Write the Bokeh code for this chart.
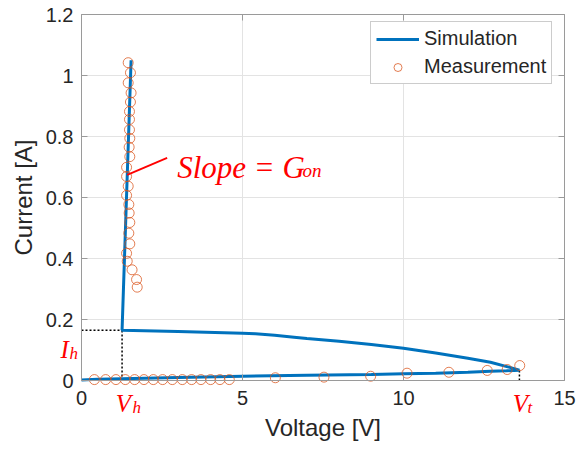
from bokeh.plotting import figure
from bokeh.models import Range1d, FixedTicker, LinearAxis, Label, Grid
from bokeh.embed import file_html
from bokeh.resources import INLINE

# Simulation: lower branch (0 -> Vt), upper branch (Vt -> Vh), on-state branch
sim_v = [0.0, 0.5, 1.26, 3.0, 5.0, 7.0, 9.0, 10.0, 11.0, 12.0, 12.7, 13.2, 13.6,
         13.3, 12.7, 12.0, 11.0, 10.0, 9.0, 8.0, 7.0, 6.6, 6.0, 5.4, 5.0, 3.0, 1.26,
         1.54]
sim_i = [0.002, 0.004, 0.006, 0.010, 0.014, 0.017, 0.020, 0.022, 0.024, 0.027, 0.030, 0.032, 0.034,
         0.043, 0.060, 0.073, 0.090, 0.106, 0.118, 0.129, 0.138, 0.142, 0.148, 0.153, 0.155, 0.161, 0.165,
         1.05]

meas_v = [1.45, 1.52, 1.45, 1.54, 1.52, 1.49, 1.49, 1.49, 1.50, 1.48, 1.50, 1.40, 1.40,
          1.45, 1.40, 1.47, 1.48, 1.50, 1.47, 1.50, 1.40, 1.42, 1.57, 1.71, 1.73,
          0.40, 0.75, 1.07, 1.36, 1.65, 1.94, 2.23, 2.52, 2.82, 3.13, 3.42, 3.71, 4.01,
          4.30, 4.59, 6.02, 7.53, 8.98, 10.11, 11.41, 12.60, 13.22, 13.61]
meas_i = [1.042, 1.009, 0.976, 0.943, 0.913, 0.882, 0.856, 0.822, 0.794, 0.765, 0.734, 0.699, 0.669,
          0.637, 0.607, 0.577, 0.549, 0.518, 0.483, 0.448, 0.417, 0.391, 0.363, 0.331, 0.306,
          0.003, 0.003, 0.003, 0.003, 0.003, 0.003, 0.003, 0.003, 0.003, 0.003, 0.003, 0.003, 0.003,
          0.003, 0.003, 0.009, 0.011, 0.014, 0.024, 0.027, 0.033, 0.036, 0.049]

Vh, Ih = 1.26, 0.165
Vt, It = 13.6, 0.034

x_ticks = [0, 5, 10, 15]
y_ticks = [0, 0.2, 0.4, 0.6, 0.8, 1.0, 1.2]
y_tick_labels = ["0", "0.2", "0.4", "0.6", "0.8", "1", "1.2"]
X0, X1 = 0, 15
Y0, Y1 = 0, 1.2

TXT = "#262626"
AX = "#9a9a9a"
GRID = "#e3e3e3"
FONT = "Liberation Sans"
SERIF = "Liberation Serif"
RED = "#ff0000"

# The frame covers the whole canvas so that annotations outside the axes box are not clipped;
# the axes are pinned to the data box with fixed_location.
W, H = 577, 450
L, R, T, B = 81, 13, 14, 70
sx = (W - L - R) / (X1 - X0)
sy = (H - T - B) / (Y1 - Y0)
p = figure(width=W, height=H, output_backend="svg", toolbar_location=None,
           x_range=Range1d(X0 - L / sx, X1 + R / sx), y_range=Range1d(Y0 - B / sy, Y1 + T / sy),
           min_border=0, min_border_left=0, min_border_right=0, min_border_top=0, min_border_bottom=0)
p.background_fill_color = "white"
p.border_fill_color = "white"
p.outline_line_color = None

xa, ya = p.xaxis[0], p.yaxis[0]
xa.fixed_location = Y0
xa.bounds = (X0, X1)
ya.fixed_location = X0
ya.bounds = (Y0, Y1)
for ax, ticks in ((xa, x_ticks), (ya, y_ticks)):
    ax.ticker = FixedTicker(ticks=ticks)
    ax.major_tick_in = 6
    ax.major_tick_out = 0
    ax.minor_tick_line_color = None
    ax.axis_line_color = AX
    ax.major_tick_line_color = AX
    ax.major_label_text_font = FONT
    ax.major_label_text_font_size = "20px"
    ax.major_label_text_color = TXT
    ax.axis_label_text_font = FONT
    ax.axis_label_text_font_size = "24px"
    ax.axis_label_text_font_style = "normal"
    ax.axis_label_text_color = TXT

xa.axis_label = "Voltage [V]"
ya.axis_label = "Current [A]"
xa.major_label_standoff = 10
xa.axis_label_standoff = 6
ya.major_label_standoff = 8
ya.axis_label_standoff = 6
ya.major_label_overrides = {t: l for t, l in zip(y_ticks, y_tick_labels)}

for side, ticks, loc, bnds in (("right", y_ticks, X1, (Y0, Y1)), ("above", x_ticks, Y1, (X0, X1))):
    a = LinearAxis(ticker=FixedTicker(ticks=ticks), fixed_location=loc, bounds=bnds,
                   major_tick_in=6, major_tick_out=0,
                   minor_tick_line_color=None, axis_line_color=AX, major_tick_line_color=AX,
                   major_label_text_font_size="1px", major_label_text_color=None,
                   major_label_standoff=0)
    p.add_layout(a, side)

p.xgrid.ticker = FixedTicker(ticks=x_ticks)
p.ygrid.ticker = FixedTicker(ticks=y_ticks)
if "cross_bounds" in Grid.properties():
    p.xgrid.bounds = (X0, X1)
    p.ygrid.bounds = (Y0, Y1)
    p.xgrid.cross_bounds = (Y0, Y1)
    p.ygrid.cross_bounds = (X0, X1)
    p.xgrid.grid_line_color = GRID
    p.ygrid.grid_line_color = GRID
else:
    p.xgrid.grid_line_color = None
    p.ygrid.grid_line_color = None
    p.segment(x0=x_ticks[1:-1], y0=[Y0] * (len(x_ticks) - 2), x1=x_ticks[1:-1], y1=[Y1] * (len(x_ticks) - 2),
              line_color=GRID, line_width=1)
    p.segment(x0=[X0] * (len(y_ticks) - 2), y0=y_ticks[1:-1], x1=[X1] * (len(y_ticks) - 2), y1=y_ticks[1:-1],
              line_color=GRID, line_width=1)

# dotted guide lines
p.line([X0, Vh], [Ih, Ih], line_color="black", line_width=1.5, line_dash="2 2")
p.line([Vh, Vh], [Y0, Ih], line_color="black", line_width=1.5, line_dash="2 2")
p.line([Vt, Vt], [Y0, It], line_color="black", line_width=1.5, line_dash="2 2")

p.line(sim_v, sim_i, line_color="#0072BD", line_width=3, legend_label="Simulation")
p.scatter(meas_v, meas_i, marker="circle", size=10, fill_color=None,
          line_color="#D95319", line_alpha=0.75, line_width=1, legend_label="Measurement")

# slope annotation
p.line([1.42, 2.66], [0.674, 0.730], line_color=RED, line_width=1.8)

def lab(x, y, text, size):
    p.add_layout(Label(x=x, y=y, text=text, text_font=SERIF, text_font_style="italic",
                       text_font_size=size, text_color=RED, text_baseline="alphabetic"))

lab(2.97, 0.700, "Slope = G", "31px")
lab(6.86, 0.688, "on", "19px")
lab(-0.65, 0.102, "I", "25px")
lab(-0.37, 0.089, "h", "17px")
lab(1.06, -0.0754, "V", "25px")
lab(1.58, -0.0885, "h", "17px")
lab(13.39, -0.076, "V", "25px")
lab(13.85, -0.0885, "t", "17px")

lg = p.legend[0]
lg.location = (370, 366)
lg.border_line_color = AX
lg.border_line_width = 1
lg.background_fill_color = "white"
lg.background_fill_alpha = 1
lg.label_text_font = FONT
lg.label_text_font_size = "20px"
lg.label_text_color = TXT
lg.label_height = 20
lg.glyph_height = 20
lg.glyph_width = 43
lg.label_standoff = 5
lg.spacing = 5
lg.padding = 5
lg.margin = 0

open("out.html", "w").write(file_html(p, INLINE))
